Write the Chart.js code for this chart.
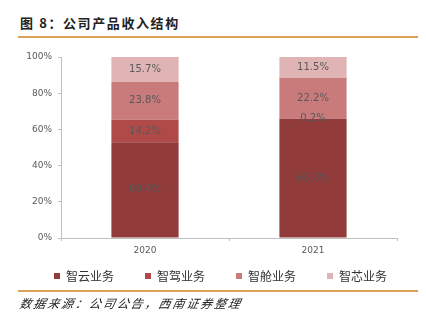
<!DOCTYPE html>
<html><head><meta charset="utf-8">
<script src="https://cdn.jsdelivr.net/npm/chart.js@4"></script>
<style>
html,body{margin:0;padding:0;background:#fff;width:426px;height:322px;overflow:hidden;}
#wrap{position:relative;width:426px;height:322px;}
#c{position:absolute;left:0;top:0;}
#title{position:absolute;left:20px;top:13px;font-family:"Noto Sans CJK SC","Noto Sans",sans-serif;font-weight:bold;font-size:13px;color:#222;letter-spacing:1.6px;}
#line1{position:absolute;left:18px;top:36px;width:400px;height:2px;background:#D9A35A;}
#line2{position:absolute;left:18px;top:290px;width:400px;height:2px;background:#D9A35A;}
#src{position:absolute;left:20px;top:294px;font-family:"Noto Sans CJK SC",sans-serif;font-style:italic;font-size:12px;color:#222;letter-spacing:1.9px;transform:skewX(-12deg);transform-origin:left;}
</style></head>
<body><div id="wrap">
<div id="title">图 8：公司产品收入结构</div>
<div id="line1"></div>
<canvas id="c" width="426" height="322"></canvas>
<div id="line2"></div>
<div id="src">数据来源：公司公告，西南证券整理</div>
</div>
<script>
const categories = ["2020", "2021"];
const seriesNames = ["智云业务", "智驾业务", "智舱业务", "智芯业务"];
const zhiyun = [60.4, 65.3];
const zhijia = [14.2, 0.2];
const zhicang = [23.8, 22.2];
const zhixin = [15.7, 11.5];
const yTicks = [0, 20, 40, 60, 80, 100];
const colors = ["#913B3A", "#B04A48", "#C97B7B", "#E0B4B4"];

const raw = [zhiyun, zhijia, zhicang, zhixin];
const totals = categories.map((_, i) => raw.reduce((s, a) => s + a[i], 0));

const labelPlugin = {
  id: 'segLabels',
  afterLayout(chart) {
    if (chart.legend) { chart.legend.left += 47; chart.legend.right += 47; }
  },
  afterDatasetsDraw(chart) {
    const ctx = chart.ctx;
    ctx.save();
    ctx.font = '10px "DejaVu Sans", sans-serif';
    ctx.fillStyle = '#595959';
    ctx.textAlign = 'center';
    ctx.textBaseline = 'middle';
    chart.data.datasets.forEach((ds, di) => {
      const meta = chart.getDatasetMeta(di);
      meta.data.forEach((bar, i) => {
        const y = (bar.y + bar.base) / 2;
        ctx.fillText(ds.rawValues[i].toFixed(1) + '%', bar.x, y);
      });
    });
    ctx.restore();
  }
};

new Chart(document.getElementById('c'), {
  type: 'bar',
  data: {
    labels: categories,
    datasets: raw.map((arr, k) => ({
      label: seriesNames[k],
      data: arr.map((v, i) => v / totals[i] * 100),
      rawValues: arr,
      backgroundColor: colors[k],
      borderWidth: 0,
      categoryPercentage: 0.4,
      barPercentage: 1.0
    }))
  },
  options: {
    responsive: false,
    animation: false,
    devicePixelRatio: 1,
    layout: { padding: { left: 0, right: 29, top: 57, bottom: 30 } },
    plugins: {
      legend: {
        position: 'bottom',
        align: 'start',
        labels: {
          boxWidth: 6, boxHeight: 6, padding: 7,
          color: '#333',
          font: { family: '"Noto Sans CJK SC", sans-serif', size: 12 },
          generateLabels(chart) {
            const items = Chart.defaults.plugins.legend.labels.generateLabels(chart);
            items.forEach(it => { it.text = it.text + '\u3000\u3000'; it.lineWidth = 0; });
            return items;
          }
        }
      },
      tooltip: { enabled: false }
    },
    scales: {
      x: {
        stacked: true,
        afterFit(scale) { scale.height = 25; },
        grid: { display: true, drawOnChartArea: false, drawTicks: true, tickLength: 3, color: '#BFBFBF', offset: true },
        border: { color: '#BFBFBF', width: 1 },
        ticks: { color: '#595959', font: { family: '"DejaVu Sans", sans-serif', size: 9 }, padding: 4 }
      },
      y: {
        stacked: true,
        min: 0, max: 100,
        afterBuildTicks(scale) { scale.ticks = yTicks.map(v => ({ value: v })); },
        afterFit(scale) { scale.width = 61; },
        grid: { display: true, drawOnChartArea: false, drawTicks: true, tickLength: 3, color: '#BFBFBF' },
        border: { color: '#BFBFBF', width: 1 },
        ticks: { color: '#595959', font: { family: '"DejaVu Sans", sans-serif', size: 9 }, padding: 6, callback: v => v + '%' }
      }
    }
  },
  plugins: [labelPlugin]
});
</script>
</body></html>
